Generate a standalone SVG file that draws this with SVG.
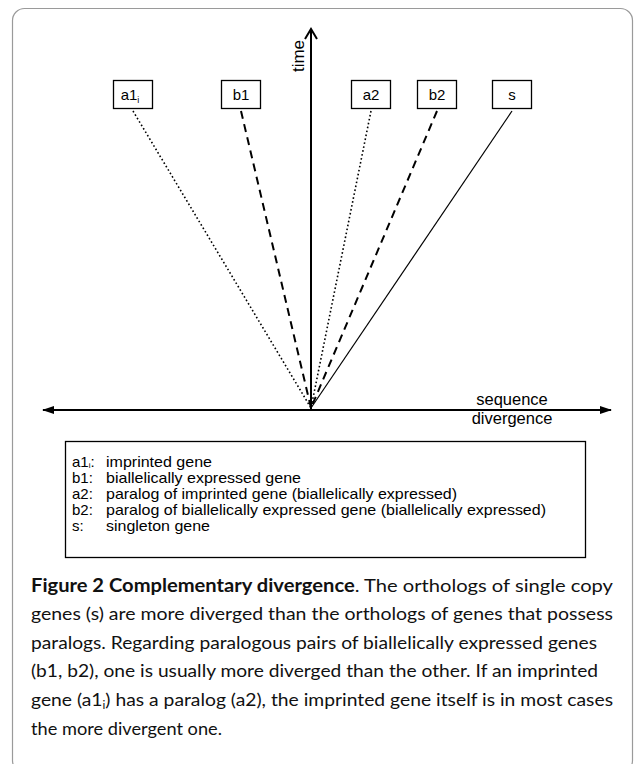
<svg xmlns="http://www.w3.org/2000/svg" width="634" height="764" viewBox="0 0 634 764">
<defs>
<style>
.frame{fill:#fff;stroke:#9a9a9a;stroke-width:1.2}
.box{fill:#fff;stroke:#000;stroke-width:1.3}
.lbl{font-family:"Liberation Sans",Arial,sans-serif;font-size:15px;fill:#000}
.axis{stroke:#000;stroke-width:2;fill:none}
.dot{stroke:#000;stroke-width:1.6;stroke-dasharray:1.6 2.4;fill:none}
.dash{stroke:#000;stroke-width:2;stroke-dasharray:8 5.5;fill:none}
.solid{stroke:#000;stroke-width:1.2;fill:none}
.leg{font-family:"Liberation Sans",Arial,sans-serif;font-size:15px;fill:#000}
.cap{font-family:Lato,"Open Sans",sans-serif;font-size:18px;fill:#111}
</style>
<marker id="tri" viewBox="0 0 12 8" refX="11" refY="4" markerWidth="12" markerHeight="8" markerUnits="userSpaceOnUse" orient="auto-start-reverse">
<path d="M0,0 L12,4 L0,8 z" fill="#000"/>
</marker>
</defs>
<rect class="frame" x="12.5" y="8.5" width="620" height="764" rx="12"/>

<g id="connectors">
<line class="dot" x1="133" y1="111" x2="311" y2="408"/>
<line class="dash" x1="241" y1="111" x2="311" y2="408"/>
<line class="dot" x1="371" y1="111" x2="311" y2="408"/>
<line class="dash" x1="437" y1="111" x2="311" y2="408"/>
<line class="solid" x1="512" y1="111" x2="311" y2="408"/>
</g>

<g id="time-axis">
<line class="axis" x1="311" y1="409" x2="311" y2="30"/>
<polyline class="axis" points="305,39 311,29 317,39"/>
<text class="lbl" text-anchor="middle" transform="translate(303.5,56) rotate(-90)" style="font-size:17px">time</text>
</g>

<g id="divergence-axis">
<line class="axis" x1="43" y1="410" x2="611" y2="410" marker-start="url(#tri)" marker-end="url(#tri)"/>
<text class="lbl" x="512" y="405" text-anchor="middle" style="font-size:16.5px">sequence</text>
<text class="lbl" x="512" y="424" text-anchor="middle" style="font-size:16.5px">divergence</text>
</g>

<g id="node-a1i">
<rect class="box" x="113.5" y="80.5" width="39" height="28"/>
<text class="lbl" x="130" y="100" text-anchor="middle">a1<tspan font-size="9" dy="3">i</tspan></text>
</g>
<g id="node-b1">
<rect class="box" x="221.5" y="80.5" width="39" height="28"/>
<text class="lbl" x="241" y="100" text-anchor="middle">b1</text>
</g>
<g id="node-a2">
<rect class="box" x="351.5" y="80.5" width="39" height="28"/>
<text class="lbl" x="371" y="100" text-anchor="middle">a2</text>
</g>
<g id="node-b2">
<rect class="box" x="417.5" y="80.5" width="39" height="28"/>
<text class="lbl" x="437" y="100" text-anchor="middle">b2</text>
</g>
<g id="node-s">
<rect class="box" x="492.5" y="80.5" width="39" height="28"/>
<text class="lbl" x="512" y="100" text-anchor="middle">s</text>
</g>

<g id="legend">
<rect class="box" x="65.5" y="441.5" width="520" height="116" stroke-width="1.2"/>
<text class="leg" x="72" y="467">a1<tspan font-size="8" dy="1">i</tspan><tspan dy="-1">:</tspan></text>
<text class="leg" x="106" y="467" textLength="106" lengthAdjust="spacingAndGlyphs">imprinted gene</text>
<text class="leg" x="72" y="483">b1:</text>
<text class="leg" x="106" y="483" textLength="195" lengthAdjust="spacingAndGlyphs">biallelically expressed gene</text>
<text class="leg" x="72" y="499">a2:</text>
<text class="leg" x="106" y="499" textLength="351" lengthAdjust="spacingAndGlyphs">paralog of imprinted gene (biallelically expressed)</text>
<text class="leg" x="72" y="515">b2:</text>
<text class="leg" x="106" y="515" textLength="440" lengthAdjust="spacingAndGlyphs">paralog of biallelically expressed gene (biallelically expressed)</text>
<text class="leg" x="72" y="531">s:</text>
<text class="leg" x="106" y="531" textLength="104" lengthAdjust="spacingAndGlyphs">singleton gene</text>
</g>

<g id="caption">
<text class="cap" x="31" y="592" textLength="582" lengthAdjust="spacingAndGlyphs"><tspan font-weight="bold">Figure 2 Complementary divergence</tspan>. The orthologs of single copy</text>
<text class="cap" x="31" y="620" textLength="582" lengthAdjust="spacingAndGlyphs">genes (s) are more diverged than the orthologs of genes that possess</text>
<text class="cap" x="31" y="649" textLength="566" lengthAdjust="spacingAndGlyphs">paralogs. Regarding paralogous pairs of biallelically expressed genes</text>
<text class="cap" x="31" y="677" textLength="567" lengthAdjust="spacingAndGlyphs">(b1, b2), one is usually more diverged than the other. If an imprinted</text>
<text class="cap" x="31" y="706" textLength="582" lengthAdjust="spacingAndGlyphs">gene (a1<tspan font-size="11" dy="3">i</tspan><tspan dy="-3">) has a paralog (a2), the imprinted gene itself is in most cases</tspan></text>
<text class="cap" x="31" y="735" textLength="191" lengthAdjust="spacingAndGlyphs">the more divergent one.</text>
</g>
</svg>
